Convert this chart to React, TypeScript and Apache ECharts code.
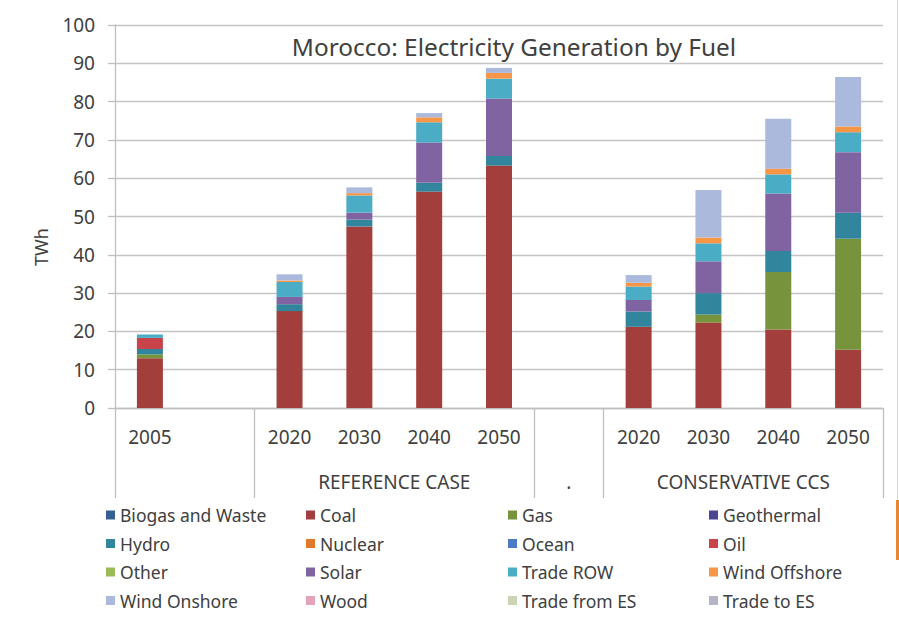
import React, { useEffect, useRef } from "react";
import * as echarts from "echarts";

// Category slots along the bottom axis (empty slots separate the scenario groups)
const categories = ["2005", "", "2020", "2030", "2040", "2050", "", "2020", "2030", "2040", "2050"];

// Scenario group labels, placed on a half-step axis (23 points spanning the plot)
const groupAxis = [
  "", "", "", "", "", "", "", "", "REFERENCE CASE", "", "", "",
  "", ".", "", "", "", "", "CONSERVATIVE CCS", "", "", "", "",
];
// Half-step indices where group separators are drawn
const groupBounds = [0, 4, 12, 14, 22];

// Generation by fuel, TWh
const biogasWaste = [0, 0, 0, 0, 0, 0, 0, 0, 0, 0, 0];
const coal = [13.0, 0, 25.3, 47.4, 56.5, 63.3, 0, 21.2, 22.3, 20.5, 15.2];
const gas = [1.0, 0, 0, 0, 0, 0, 0, 0, 2.1, 15.0, 29.0];
const geothermal = [0, 0, 0, 0, 0, 0, 0, 0, 0, 0, 0];
const hydro = [1.4, 0, 1.8, 1.8, 2.3, 2.5, 0, 4.0, 5.6, 5.5, 6.8];
const nuclear = [0, 0, 0, 0, 0, 0, 0, 0, 0, 0, 0];
const ocean = [0, 0, 0, 0, 0, 0, 0, 0, 0, 0, 0];
const oil = [2.9, 0, 0, 0, 0, 0, 0, 0, 0, 0, 0];
const other = [0, 0, 0, 0, 0, 0, 0, 0, 0, 0, 0];
const solar = [0, 0, 1.9, 1.8, 10.5, 15.0, 0, 3.0, 8.3, 15.0, 15.8];
const tradeRow = [0.9, 0, 3.9, 4.5, 5.3, 5.2, 0, 3.5, 4.7, 5.0, 5.2];
const windOffshore = [0, 0, 0.4, 0.6, 1.3, 1.5, 0, 1.0, 1.5, 1.5, 1.5];
const windOnshore = [0, 0, 1.6, 1.5, 1.1, 1.3, 0, 2.0, 12.4, 13.0, 12.9];
const wood = [0, 0, 0, 0, 0, 0, 0, 0, 0, 0, 0];
const tradeFromEs = [0, 0, 0, 0, 0, 0, 0, 0, 0, 0, 0];
const tradeToEs = [0, 0, 0, 0, 0, 0, 0, 0, 0, 0, 0];

const yTicks = { min: 0, max: 100, interval: 10 };

const fuels: { name: string; data: number[]; color: string }[] = [
  { name: "Biogas and Waste", data: biogasWaste, color: "#376092" },
  { name: "Coal", data: coal, color: "#A23F3C" },
  { name: "Gas", data: gas, color: "#77933C" },
  { name: "Geothermal", data: geothermal, color: "#4B4592" },
  { name: "Hydro", data: hydro, color: "#31859C" },
  { name: "Nuclear", data: nuclear, color: "#E07A2A" },
  { name: "Ocean", data: ocean, color: "#4A7BC4" },
  { name: "Oil", data: oil, color: "#C8434A" },
  { name: "Other", data: other, color: "#9BBB59" },
  { name: "Solar", data: solar, color: "#8064A2" },
  { name: "Trade ROW", data: tradeRow, color: "#4BACC6" },
  { name: "Wind Offshore", data: windOffshore, color: "#F79646" },
  { name: "Wind Onshore", data: windOnshore, color: "#AAB9DC" },
  { name: "Wood", data: wood, color: "#E5A3B8" },
  { name: "Trade from ES", data: tradeFromEs, color: "#CBD5B5" },
  { name: "Trade to ES", data: tradeToEs, color: "#B4B4C8" },
];

const FONT = "Noto Sans";
const TEXT = "#404040";
const LINE = "#BFBFBF";

export default function App() {
  const ref = useRef<HTMLDivElement>(null);

  useEffect(() => {
    if (!ref.current) return;
    const chart = echarts.init(ref.current, undefined, { renderer: "svg" });

    // Four legend columns, four rows each, in series order across the rows
    const legendCols = [106, 306, 508, 709];
    const legends = legendCols.map((left, c) => ({
      orient: "vertical" as const,
      left,
      top: 505,
      padding: 0,
      itemWidth: 9,
      itemHeight: 9,
      itemGap: 8.5,
      icon: "rect",
      selectedMode: false,
      data: [0, 1, 2, 3].map((r) => fuels[r * 4 + c].name),
      textStyle: { fontFamily: FONT, fontSize: 17.5, color: TEXT, lineHeight: 20 },
    }));

    chart.setOption({
      animation: false,
      backgroundColor: "#FFFFFF",
      title: {
        text: "Morocco: Electricity Generation by Fuel",
        left: 509,
        top: 29,
        textAlign: "center",
        textStyle: { fontFamily: FONT, fontSize: 24.4, fontWeight: "normal", color: TEXT },
      },
      legend: legends,
      grid: { left: 115, right: 16, top: 25, bottom: 212 },
      xAxis: [
        {
          type: "category",
          data: categories,
          axisLine: { lineStyle: { color: LINE, width: 1.3 } },
          axisTick: { interval: 0, length: 45, lineStyle: { color: LINE, width: 1.3 } },
          axisLabel: { interval: 0, margin: 19, fontFamily: FONT, fontSize: 19, color: TEXT },
        },
        {
          type: "category",
          data: groupAxis,
          boundaryGap: false,
          position: "bottom",
          axisLine: { show: false },
          axisTick: {
            show: true,
            length: 90,
            interval: (i: number) => groupBounds.includes(i),
            lineStyle: { color: LINE, width: 1.3 },
          },
          axisLabel: {
            interval: (i: number) => groupAxis[i] !== "",
            margin: 64,
            fontFamily: FONT,
            fontSize: 19,
            color: TEXT,
          },
        },
      ],
      yAxis: {
        type: "value",
        min: yTicks.min,
        max: yTicks.max,
        interval: yTicks.interval,
        axisLine: { show: true, lineStyle: { color: LINE, width: 1.3 } },
        axisTick: { show: true, length: 7, lineStyle: { color: LINE, width: 1.3 } },
        splitLine: { lineStyle: { color: "#C4C4C4", width: 1.4 } },
        axisLabel: { margin: 20, fontFamily: FONT, fontSize: 19, color: TEXT },
      },
      graphic: [
        {
          type: "text",
          x: 41,
          y: 247,
          rotation: Math.PI / 2,
          style: {
            text: "TWh",
            fontFamily: FONT,
            fontSize: 18,
            fill: TEXT,
            textAlign: "center",
            textVerticalAlign: "middle",
          },
        },
        {
          type: "line",
          shape: { x1: 897.5, y1: 0, x2: 897.5, y2: 500 },
          style: { stroke: "#D6D6D6", lineWidth: 1 },
        },
        {
          type: "rect",
          shape: { x: 896, y: 500, width: 3, height: 60 },
          style: { fill: "#E8872F" },
        },
      ],
      series: fuels.map((f) => ({
        name: f.name,
        type: "bar",
        stack: "total",
        xAxisIndex: 0,
        barWidth: 26,
        data: f.data,
        itemStyle: { color: f.color },
      })),
    });

    return () => chart.dispose();
  }, []);

  return (
    <div
      ref={ref}
      style={{ position: "fixed", left: 0, top: 0, width: 899, height: 620 }}
    />
  );
}
